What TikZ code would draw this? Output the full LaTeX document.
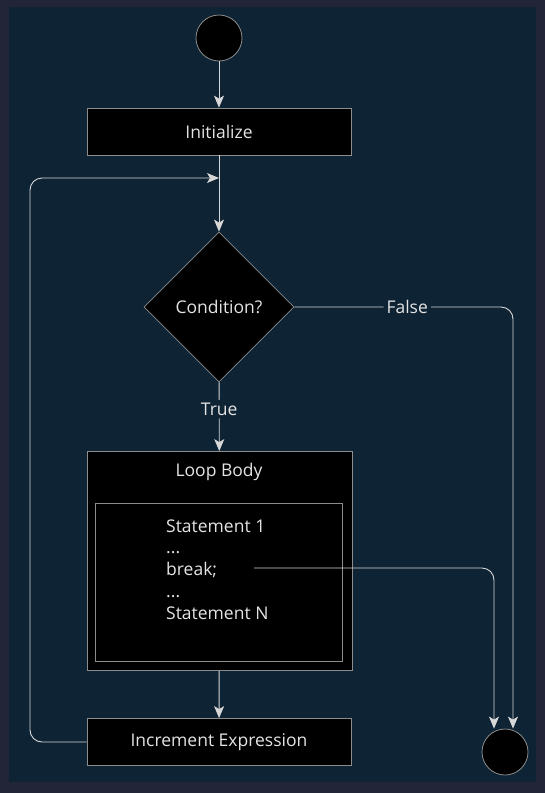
\documentclass[tikz,border=0pt]{standalone}
\usepackage{fontspec}
\setmainfont{Open Sans}
\usetikzlibrary{shapes.geometric,arrows.meta}
\definecolor{outerbg}{RGB}{34,37,56}
\definecolor{innerbg}{RGB}{14,35,52}
\definecolor{linec}{RGB}{215,215,215}
\definecolor{borderc}{RGB}{140,140,140}
\definecolor{txtc}{RGB}{228,228,228}
\tikzset{
  box/.style={draw=borderc, fill=black, line width=0.8pt, text=txtc, inner sep=0pt},
  actbox/.style={box, minimum width=264pt, minimum height=47pt},
  dot/.style={circle, draw=borderc, fill=black, line width=0.8pt, minimum size=46pt, inner sep=0pt},
  arr/.style={draw=linec, line width=0.9pt, -{Stealth[length=12pt,width=10pt,inset=3pt]}, rounded corners=12pt},
  lbl/.style={fill=innerbg, text=txtc, inner sep=3pt},
  stmt/.style={text=txtc, anchor=base west, inner sep=0pt},
}
\begin{document}
\begin{tikzpicture}[x=1pt,y=-1pt,font=\fontsize{17.5}{21}\selectfont]
\fill[outerbg] (0,0) rectangle (545,793);
\fill[innerbg] (9,7) rectangle (536,782);
\useasboundingbox (0,0) rectangle (545,793);

\node[dot] (start) at (219,38) {};
\node[actbox] (init) at (219,131.5) {Initialize};
\coordinate (merge) at (219,178);
\coordinate (lb) at (30,178);
\node[box, diamond, aspect=1, minimum width=150pt, minimum height=150pt] (cond) at (219,307) {Condition?};
\node[box, minimum width=265pt, minimum height=219pt] (body) at (219.5,561) {};
\node[text=txtc] (bodyt) at (219,472) {Loop Body};
\node[draw=borderc, line width=0.8pt, minimum width=247pt, minimum height=158pt, inner sep=0pt] (inner) at (218.5,582) {};
\node[stmt] (s1) at (166,532) {Statement 1};
\node[stmt] (d1) at (166,553) {...};
\node[stmt] (brk) at (166,575) {break;};
\node[stmt] (d2) at (166,597) {...};
\node[stmt] (sn) at (166,619) {Statement N};
\coordinate (brkout) at (254,568);
\node[actbox] (inc) at (219,742) {Increment Expression};
\node[dot] (end) at (505,752) {};

\draw[arr] (start) -- (init);
\draw[arr] (init) -- (cond);
\draw[arr] (cond) -- node[lbl, pos=0.39] {True} (body);
\draw[arr] (body) -- (inc);
\draw[arr] (inc.west) -| (lb) -- (merge);
\draw[arr] (cond.east) -| node[lbl, pos=0.258] {False} ([xshift=8pt]end.north);
\draw[arr] (brkout) -| ([xshift=-11pt]end.north);
\end{tikzpicture}
\end{document}
